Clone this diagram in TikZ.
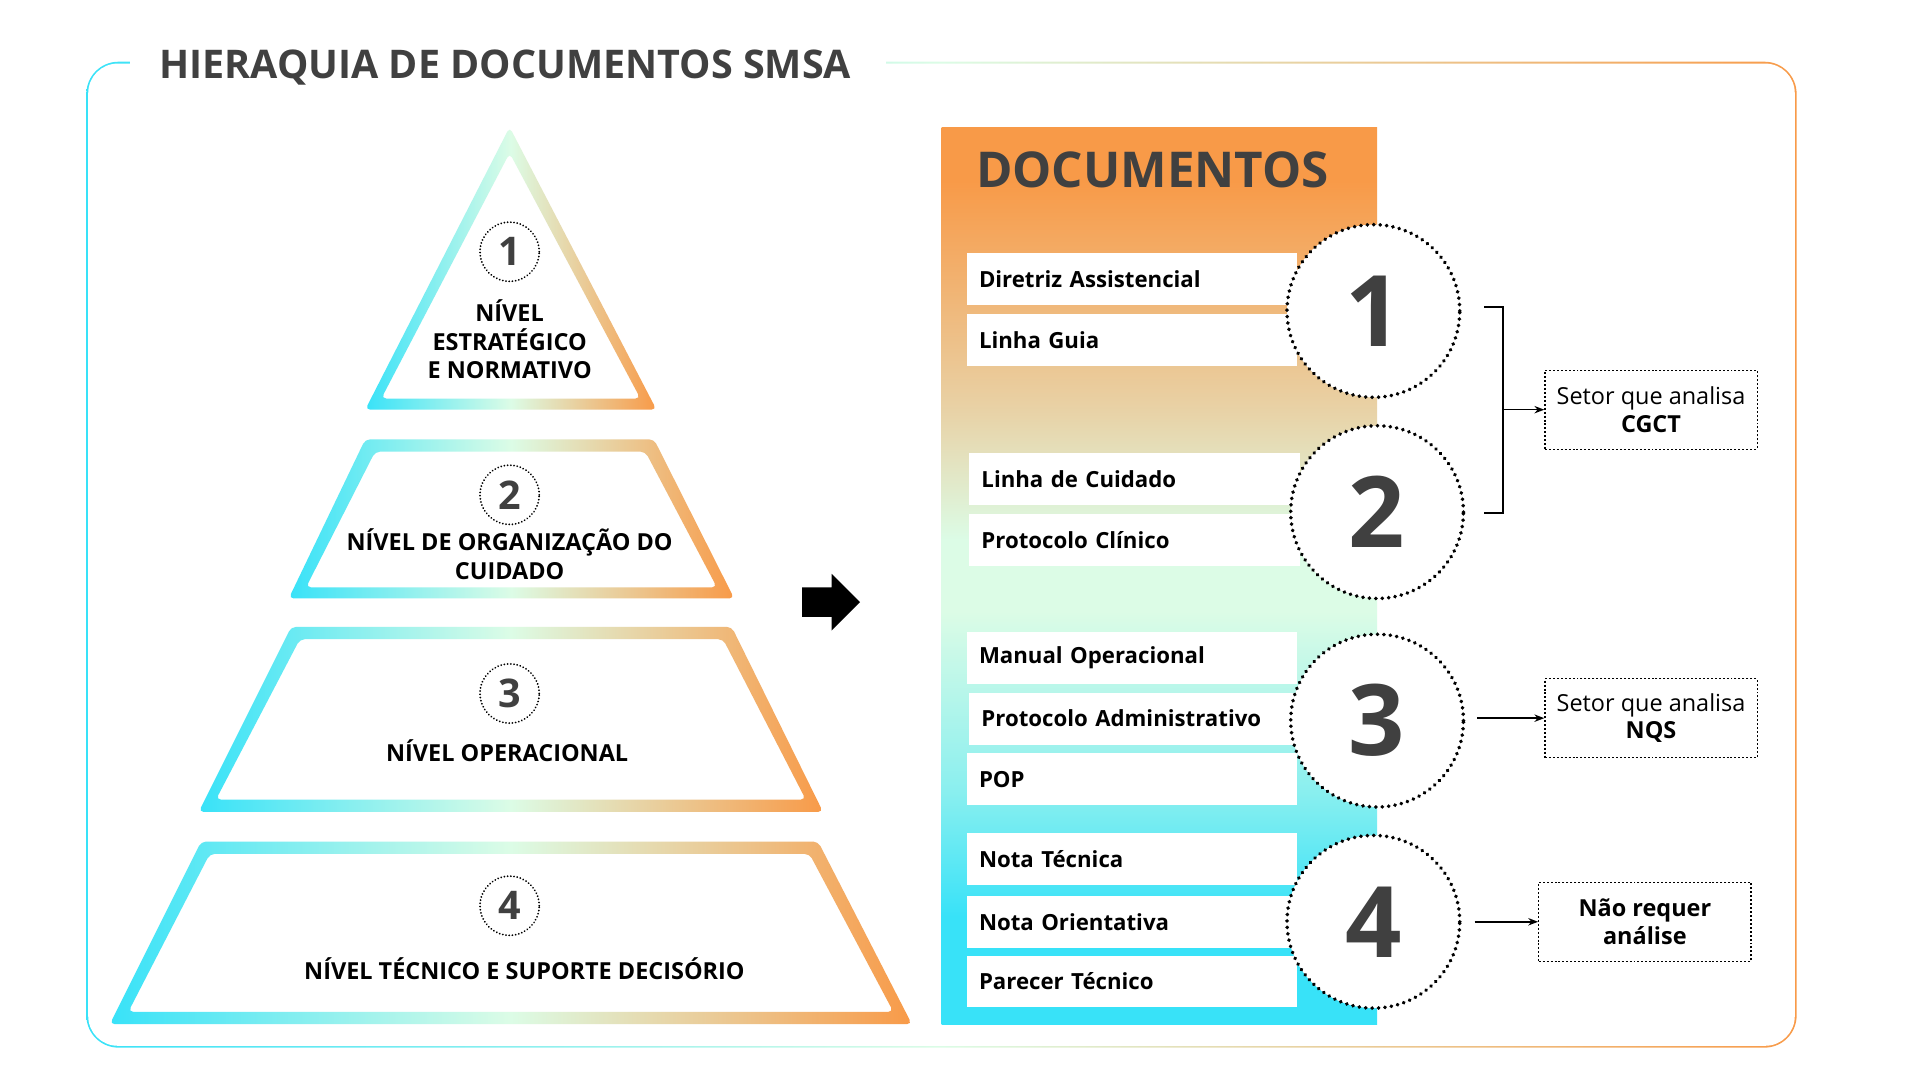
\documentclass[tikz,border=0pt]{standalone}
\usepackage{fontspec}
\setmainfont{Open Sans}
\usetikzlibrary{arrows.meta}
\definecolor{cy}{HTML}{38E2F8}
\definecolor{mi}{HTML}{DCFCE6}
\definecolor{tan}{HTML}{E8D3A8}
\definecolor{og}{HTML}{F89A48}
\definecolor{dk}{HTML}{404040}
\pgfdeclarehorizontalshading{pyr}{100bp}{color(0bp)=(cy);color(25bp)=(cy);color(50bp)=(mi);color(75bp)=(og);color(100bp)=(og)}
\pgfdeclareverticalshading{docs}{100bp}{color(0bp)=(cy);color(25bp)=(cy);color(31bp)=(cy);color(38bp)=(cy!50!mi);color(48bp)=(mi);color(52bp)=(mi);color(59bp)=(tan);color(66bp)=(og!55!tan);color(72bp)=(og);color(100bp)=(og)}
\begin{document}
\begin{tikzpicture}[x=0.5pt,y=-0.5pt,
  row/.style={fill=white,anchor=north west,minimum height=21pt,text width=124pt,align=left,inner xsep=5pt,font=\bfseries\fontsize{9}{11}\selectfont,text=black},
  big/.style={circle,fill=white,draw=black,line width=1.6pt,dash pattern=on 0.01pt off 2.6pt,line cap=round,minimum size=70pt,inner sep=0pt,font=\bfseries\fontsize{40}{40}\selectfont,text=dk},
  small/.style={circle,draw=black,line width=0.8pt,dash pattern=on 0.01pt off 1.3pt,line cap=round,minimum size=24pt,inner sep=0pt,font=\bfseries\fontsize{16}{16}\selectfont,text=dk},
  plab/.style={align=center,font=\bfseries\fontsize{9.5}{11.5}\selectfont,text=black},
  sbox/.style={draw=black,line width=0.5pt,dash pattern=on 0.8pt off 0.8pt,minimum width=86pt,minimum height=32pt,align=center,font=\fontsize{9.5}{11}\selectfont,text=black},
  arr/.style={-{Stealth[length=4pt,width=3pt]},line width=0.6pt}]
\useasboundingbox (0,0) rectangle (1556,875);
% frame
\shade[shading=pyr,rounded corners=13pt] (70,50) rectangle (1456,849);
\fill[white,rounded corners=12pt] (71.5,51.5) rectangle (1454.5,847.5);
\fill[white] (105,45) rectangle (718,56);
\node[anchor=west,font=\bfseries\fontsize{16}{16}\selectfont,text=dk] (title) at (122,55) {HIERAQUIA DE DOCUMENTOS SMSA};
% pyramid
\shade[shading=pyr,even odd rule,rounded corners=2pt] (413,103) -- (532,332) -- (296,332) -- cycle (413,124) -- (519,323) -- (309,323) -- cycle;
\shade[shading=pyr,even odd rule,rounded corners=2pt] (296,356) -- (530,356) -- (595,485) -- (234,485) -- cycle (304,366) -- (523,366) -- (581,476) -- (248,476) -- cycle;
\shade[shading=pyr,even odd rule,rounded corners=2pt] (236,508) -- (593,508) -- (667,658) -- (161,658) -- cycle (243,518) -- (586,518) -- (653,648) -- (175,648) -- cycle;
\shade[shading=pyr,even odd rule,rounded corners=2pt] (163,682) -- (663,682) -- (739,830) -- (89,830) -- cycle (170,692) -- (656,692) -- (724,820) -- (104,820) -- cycle;
\node[small] (c1) at (413,204) {1};
\node[plab] (l1) at (413,275) {NÍVEL\\ESTRATÉGICO\\E NORMATIVO};
\node[small] (c2) at (413,401) {2};
\node[plab] (l2) at (413,449) {NÍVEL DE ORGANIZAÇÃO DO\\CUIDADO};
\node[small] (c3) at (413,562) {3};
\node[plab] (l3) at (411,608) {NÍVEL OPERACIONAL};
\node[small] (c4) at (413,734) {4};
\node[plab] (l4) at (425,785) {NÍVEL TÉCNICO E SUPORTE DECISÓRIO};
% big arrow
\fill[black] (650,476) -- (674,476) -- (674,465) -- (697,488) -- (674,511) -- (674,500) -- (650,500) -- cycle;
% documents panel
\shade[shading=docs] (763,103) rectangle (1116,830);
\node[font=\bfseries\fontsize{20}{20}\selectfont,text=dk] (doc) at (934,138) {DOCUMENTOS};
\node[row] (r1) at (783,205) {Diretriz Assistencial};
\node[row] (r2) at (783,254) {Linha Guia};
\node[row] (r3) at (785,367) {Linha de Cuidado};
\node[row] (r4) at (785,416) {Protocolo Clínico};
\node[row] (r5) at (783,512) {Manual Operacional};
\node[row] (r6) at (785,561) {Protocolo Administrativo};
\node[row] (r7) at (783,610) {POP};
\node[row] (r8) at (783,675) {Nota Técnica};
\node[row] (r9) at (783,726) {Nota Orientativa};
\node[row] (r10) at (783,774) {Parecer Técnico};
\node[big] (n1) at (1113,252) {1};
\node[big] (n2) at (1116,415) {2};
\node[big] (n3) at (1116,584) {3};
\node[big] (n4) at (1113,747) {4};
% right boxes
\node[sbox] (b1) at (1338,332) {Setor que analisa\\\textbf{CGCT}};
\node[sbox] (b2) at (1338,582) {Setor que analisa\\\textbf{NQS}};
\node[sbox,font=\bfseries\fontsize{9.5}{11}\selectfont] (b3) at (1333,747) {Não requer\\análise};
\coordinate (bt) at (1203,249);
\coordinate (bb) at (1203,416);
\coordinate (bm) at (1218,332);
\coordinate (a3) at (1197,582);
\coordinate (a4) at (1195,747);
\draw[line width=0.8pt] (bt) -- (1218,249) -- (1218,416) -- (bb);
\draw[arr] (bm) -- (b1.west);
\draw[arr] (a3) -- (b2.west);
\draw[arr] (a4) -- (b3.west);
\end{tikzpicture}
\end{document}
